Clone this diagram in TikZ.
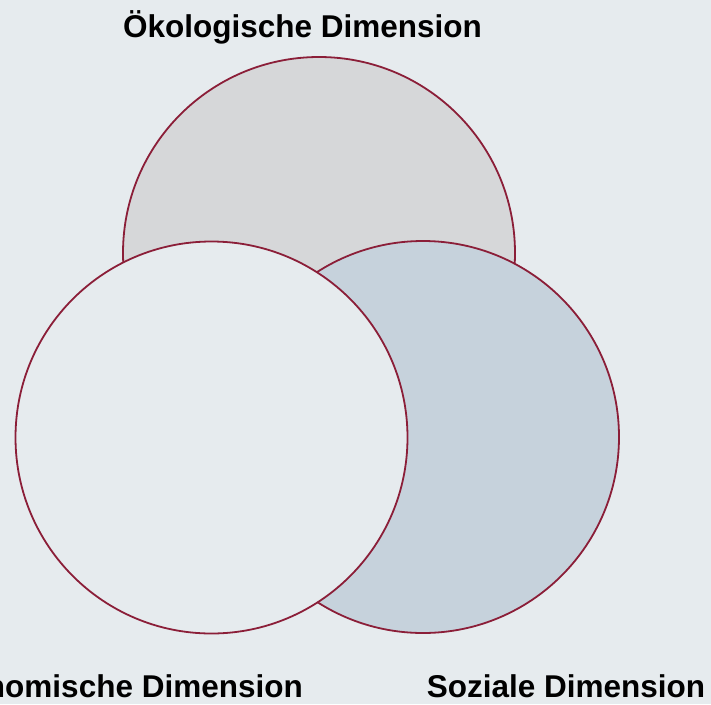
\documentclass[tikz,border=0pt]{standalone}
\usepackage{fontspec}
\setmainfont{Liberation Sans}
\definecolor{bg}{HTML}{E6EBEE}
\definecolor{topfill}{HTML}{D6D7D9}
\definecolor{rightfill}{HTML}{C6D2DC}
\definecolor{edge}{HTML}{8B1E38}
\begin{document}
\begin{tikzpicture}[x=1pt,y=-1pt,
  dim/.style={circle, draw=edge, line width=1.8pt, inner sep=0pt, minimum size=392pt},
  lbl/.style={font=\fontsize{31.5}{36}\selectfont\bfseries, text=black, inner sep=0pt}]
  \fill[bg] (0,0) rectangle (711,704);
  \useasboundingbox (0,0) rectangle (711,704);
  \node[dim, fill=topfill] (oeko) at (319,253) {};
  \node[dim, fill=rightfill] (sozial) at (423,437) {};
  \node[dim, fill=bg] (oekon) at (211.5,437.5) {};
  \node[lbl, anchor=base] (toplabel) at (302.5,37) {Ökologische Dimension};
  \node[lbl, anchor=base east] (leftlabel) at (303,697) {Ökonomische Dimension};
  \node[lbl, anchor=base] (rightlabel) at (566,697) {Soziale Dimension};
\end{tikzpicture}
\end{document}
